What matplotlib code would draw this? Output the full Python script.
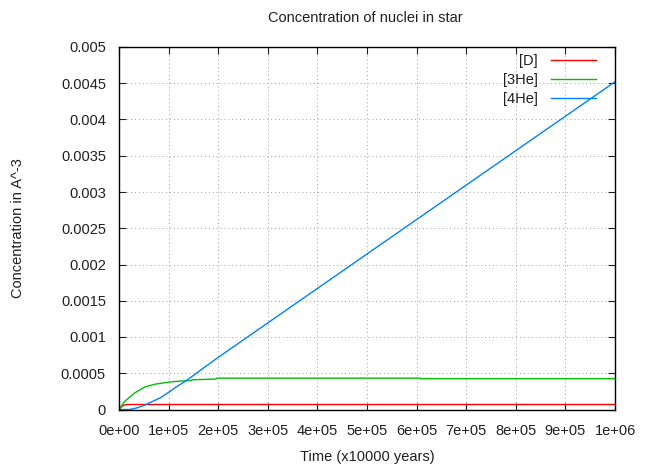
import matplotlib
matplotlib.use("Agg")
import matplotlib.pyplot as plt

# Data
d_t = [0, 5e3, 1e4, 1.5e4, 1e6]
d_c = [0, 0.00004, 0.00006, 0.000069, 0.000069]

he3_t = [0, 1.2e4, 3.2e4, 5.2e4, 7.3e4, 1.03e5, 1.2e5, 1.46e5, 1.47e5, 1.96e5,
         1.97e5, 6.07e5, 6.08e5, 1e6]
he3_c = [0, 0.000116, 0.00023, 0.00031, 0.00035, 0.00038, 0.00039, 0.00040,
         0.00041, 0.00042, 0.000433, 0.000433, 0.000425, 0.000425]

he4_t = [0, 2.2e4, 3.5e4, 5.2e4, 6.7e4, 8.3e4, 1.03e5, 1.13e5, 1.36e5, 1.94e5,
         4e5, 6e5, 8e5, 1e6]
he4_c = [0, 0, 0.00002, 0.00006, 0.00011, 0.00016, 0.00025, 0.0003, 0.0004,
         0.00069, 0.00167, 0.00262, 0.00357, 0.00452]

x_ticks = [0, 1e5, 2e5, 3e5, 4e5, 5e5, 6e5, 7e5, 8e5, 9e5, 1e6]
x_labels = ["0e+00", "1e+05", "2e+05", "3e+05", "4e+05", "5e+05",
            "6e+05", "7e+05", "8e+05", "9e+05", "1e+06"]
y_ticks = [0, 0.0005, 0.001, 0.0015, 0.002, 0.0025, 0.003, 0.0035, 0.004, 0.0045, 0.005]
y_labels = ["0", "0.0005", "0.001", "0.0015", "0.002", "0.0025", "0.003",
            "0.0035", "0.004", "0.0045", "0.005"]

plt.rcParams['font.family'] = ['Liberation Sans', 'DejaVu Sans']
FS = 10.5
W, H = 648, 465
fig = plt.figure(figsize=(W / 100, H / 100), dpi=100)
L, R, T, B = 119, 615, 47, 409.5
ax = fig.add_axes([L / W, (H - B) / H, (R - L) / W, (B - T) / H])

ax.plot(d_t, d_c, color="#ff0000", lw=1.0, label="[D]")
ax.plot(he3_t, he3_c, color="#00c000", lw=1.0, label="[3He]")
ax.plot(he4_t, he4_c, color="#0080ff", lw=1.0, label="[4He]")

ax.set_xlim(0, 1e6)
ax.set_ylim(0, 0.005)
ax.set_xticks(x_ticks)
ax.set_xticklabels(x_labels)
ax.set_yticks(y_ticks)
ax.set_yticklabels(y_labels)
ax.tick_params(direction="in", top=True, right=True, length=5, width=0.8,
               labelsize=FS, colors="#202020")
ax.tick_params(axis="x", pad=10.6)
ax.tick_params(axis="y", pad=9.4)
for s in ax.spines.values():
    s.set_linewidth(1.0)
    s.set_color("black")
ax.grid(True, color="#a0a0a0", linestyle=(0, (1, 3)), linewidth=0.7)
ax.set_axisbelow(True)

fig.text(365 / W, 1 - 17.5 / H, "Concentration of nuclei in star", ha="center",
         va="center", fontsize=FS, color="#202020")
fig.text(367 / W, 1 - 457 / H, "Time (x10000 years)", ha="center", va="center",
         fontsize=FS, color="#202020")
fig.text(18 / W, 1 - 228 / H, "Concentration in A^-3", ha="center", va="center",
         rotation=90, fontsize=FS, color="#202020")

leg = ax.legend(loc="upper right",
                bbox_to_anchor=(1 - 19 / (R - L), 1 - 7.0 / (B - T)),
                frameon=False, markerfirst=False, fontsize=FS, handlelength=3.1,
                handletextpad=0.9, labelspacing=0.35, borderaxespad=0.0,
                borderpad=0.0)
for t in leg.get_texts():
    t.set_ha("right")
    t.set_color("#202020")
leg._legend_box.align = "right"

fig.savefig("out.png", dpi=100, facecolor="white")
